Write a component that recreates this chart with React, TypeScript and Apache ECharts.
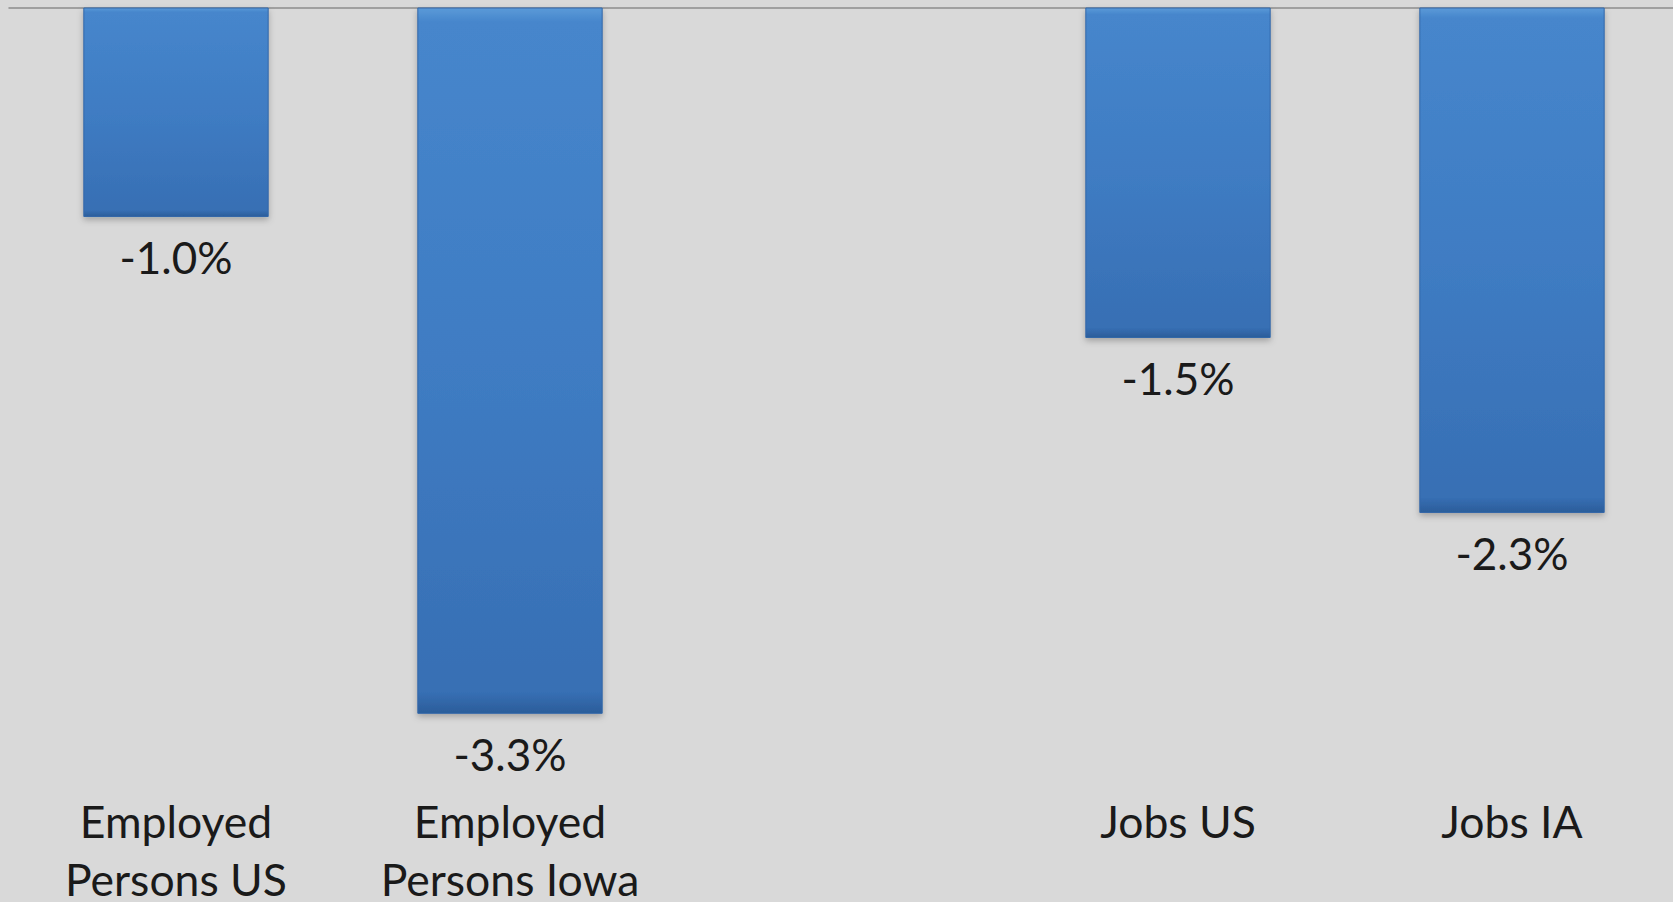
import React, { useEffect, useRef } from "react";
import * as echarts from "echarts";

const categories = ["Employed\nPersons US", "Employed\nPersons Iowa", "", "Jobs US", "Jobs IA"];
const changePct = [-0.97, -3.27, null, -1.53, -2.34];
const yMin = -3.5;
const yMax = 0;

export default function App() {
  const ref = useRef<HTMLDivElement>(null);
  useEffect(() => {
    if (!ref.current) return;
    const chart = echarts.init(ref.current, null, { renderer: "svg" });
    const font = "Lato, 'Open Sans', sans-serif";
    const labelText = { fontFamily: font, fontSize: 44.5, color: "#1a1a1a", align: "center" };
    chart.setOption({
      animation: false,
      backgroundColor: "#d9d9d9",
      grid: { left: 9, right: 0, top: 7.5, height: 756, containLabel: false, outerBoundsMode: "none" },
      xAxis: [
        {
          type: "category",
          data: categories,
          position: "bottom",
          axisLine: { show: false },
          axisTick: { show: false },
          axisLabel: {
            interval: 0,
            margin: 19,
            fontFamily: font,
            fontSize: 44.5,
            color: "#1a1a1a",
            verticalAlign: "top",
            formatter: (v: string) => {
              if (!v) return "";
              const parts = v.split("\n");
              return parts.length > 1 ? `{a|${parts[0]}}\n{b|${parts[1]}}` : `{a|${parts[0]}}`;
            },
            rich: {
              a: { ...labelText, lineHeight: 76 },
              b: { ...labelText, lineHeight: 40 },
            },
          },
        },
        {
          type: "category",
          data: categories,
          position: "top",
          axisLine: { show: true, lineStyle: { color: "#8c8c8c", width: 1.5 } },
          axisTick: { show: false },
          axisLabel: { show: false },
        },
      ],
      yAxis: {
        type: "value",
        min: yMin,
        max: yMax,
        show: false,
        splitLine: { show: false },
      },
      series: [
        {
          type: "bar",
          data: changePct,
          barWidth: "55.5%",
          itemStyle: {
            color: new echarts.graphic.LinearGradient(0, 0, 0, 1, [
              { offset: 0, color: "#5b9ad8" },
              { offset: 0.02, color: "#4686cc" },
              { offset: 0.5, color: "#3f7cc3" },
              { offset: 0.97, color: "#376fb4" },
              { offset: 1, color: "#2b5d9a" },
            ]),
            borderColor: "#3267a8",
            borderWidth: 1,
            shadowBlur: 6,
            shadowColor: "rgba(0,0,0,0.25)",
            shadowOffsetY: 3,
          },
          label: {
            show: true,
            position: "bottom",
            distance: 18,
            formatter: (p: any) => p.value.toFixed(1) + "%",
            fontFamily: font,
            fontSize: 44,
            color: "#1a1a1a",
          },
        },
      ],
    });
    return () => chart.dispose();
  }, []);
  return (
    <div style={{ position: "fixed", left: 0, top: 0, width: 1673, height: 902, overflow: "hidden", background: "#d9d9d9" }}>
      <div ref={ref} style={{ position: "absolute", left: 0, top: 0, width: 1679, height: 902 }} />
    </div>
  );
}
